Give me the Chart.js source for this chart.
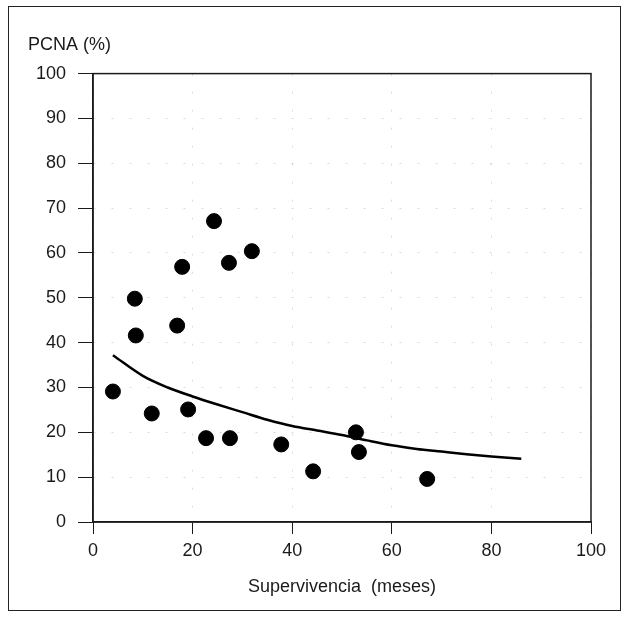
<!DOCTYPE html>
<html>
<head>
<meta charset="utf-8">
<script src="https://cdn.jsdelivr.net/npm/chart.js@4.4.1/dist/chart.umd.min.js"></script>
<style>
  body { margin: 0; background: #fff; }
  #wrap { position: relative; width: 630px; height: 620px; }
  #frame { position: absolute; left: 8px; top: 6px; width: 613px; height: 605px; border: 1px solid #222; box-sizing: border-box; }
  canvas { position: absolute; left: 0; top: 0; }
</style>
</head>
<body>
<div id="wrap">
  <div id="frame"></div>
  <canvas id="pcnaChart" width="630" height="620"></canvas>
</div>
<script>
// patients: survival (months) vs PCNA (%)
const survivalMonths = [4, 8.4, 8.6, 11.8, 16.9, 17.9, 19.1, 22.7, 24.3, 27.3, 27.5, 31.9, 37.8, 44.2, 52.8, 53.4, 67.1];
const pcnaValues = [29.1, 49.8, 41.6, 24.2, 43.8, 56.9, 25.1, 18.7, 67.1, 57.8, 18.7, 60.4, 17.3, 11.3, 20.0, 15.6, 9.6];

// fitted curve
const curveX = [4, 10, 15, 20, 25, 30, 35, 40, 45, 50, 55, 60, 65, 70, 75, 80, 86];
const curveY = [37.2, 32.6, 30.0, 28.0, 26.2, 24.5, 22.8, 21.4, 20.4, 19.4, 18.2, 17.1, 16.3, 15.7, 15.1, 14.6, 14.1];

const xTicks = [0, 20, 40, 60, 80, 100];
const yTicks = [0, 10, 20, 30, 40, 50, 60, 70, 80, 90, 100];

const font = { family: "'Liberation Sans', Arial, sans-serif", size: 18, weight: "normal" };
const ink = "#1a1a1a";

// box around the plotting area
const areaFrame = {
  id: "areaFrame",
  afterDraw(chart) {
    const { ctx, chartArea: a } = chart;
    ctx.save();
    ctx.strokeStyle = ink;
    ctx.lineWidth = 1.5;
    ctx.strokeRect(a.left, a.top, a.right - a.left, a.bottom - a.top);
    ctx.restore();
  }
};

new Chart(document.getElementById("pcnaChart"), {
  type: "scatter",
  data: {
    datasets: [
      {
        label: "PCNA",
        data: survivalMonths.map((x, i) => ({ x: x, y: pcnaValues[i] })),
        backgroundColor: "#000",
        borderColor: "#000",
        pointRadius: 7.5,
        pointHoverRadius: 7.5
      },
      {
        label: "Ajuste",
        type: "line",
        data: curveX.map((x, i) => ({ x: x, y: curveY[i] })),
        borderColor: "#000",
        borderWidth: 2.5,
        pointRadius: 0,
        cubicInterpolationMode: "monotone",
        fill: false
      }
    ]
  },
  options: {
    responsive: false,
    animation: false,
    layout: { padding: { left: 28, top: 0, right: 39, bottom: 22 } },
    plugins: {
      legend: { display: false },
      tooltip: { enabled: false },
      title: {
        display: true,
        text: "PCNA (%)",
        align: "start",
        color: ink,
        font: font,
        padding: { top: 34, bottom: 18 }
      }
    },
    scales: {
      x: {
        type: "linear",
        min: 0,
        max: 100,
        afterFit(scale) { scale.height = 76; },
        afterBuildTicks(scale) { scale.ticks = xTicks.map(v => ({ value: v })); },
        ticks: { color: ink, font: font, padding: 6 },
        grid: { color: "rgba(0,0,0,0.14)", tickColor: ink, tickLength: 12, lineWidth: 1 },
        border: { display: true, color: ink, width: 1.5, dash: [2, 16] },
        title: {
          display: true,
          text: "Supervivencia  (meses)",
          color: ink,
          font: font,
          padding: { top: 0, bottom: 0 }
        }
      },
      y: {
        min: 0,
        max: 100,
        afterFit(scale) { scale.width = 65; },
        afterBuildTicks(scale) { scale.ticks = yTicks.map(v => ({ value: v })); },
        ticks: { color: ink, font: font, padding: 12 },
        grid: { color: "rgba(0,0,0,0.14)", tickColor: ink, tickLength: 15, lineWidth: 1 },
        border: { display: true, color: ink, width: 1.5, dash: [2, 16] }
      }
    }
  },
  plugins: [areaFrame]
});
</script>
</body>
</html>
